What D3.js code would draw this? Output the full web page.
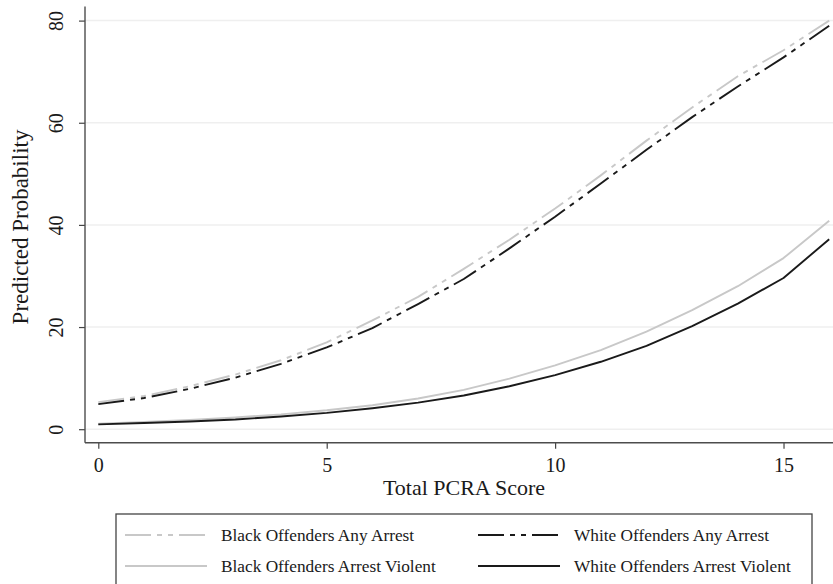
<!DOCTYPE html>
<html>
<head>
<meta charset="utf-8">
<script src="https://cdn.jsdelivr.net/npm/d3@7"></script>
<style>
  html, body { margin: 0; padding: 0; background: #fff; }
  svg { display: block; }
</style>
</head>
<body>
<svg id="chart" width="833" height="584"></svg>
<script>
// ---- data ----
const scores = [0,1,2,3,4,5,6,7,8,9,10,11,12,13,14,15,16];
const blackAnyArrest     = [5.3, 6.5, 8.4, 10.7, 13.5, 17.0, 21.3, 25.9, 31.4, 37.1, 43.2, 49.7, 56.5, 63.0, 69.1, 74.2, 80.0];
const whiteAnyArrest     = [4.9, 6.1, 7.9, 10.1, 12.8, 16.0, 19.8, 24.5, 29.4, 35.4, 41.6, 48.1, 54.7, 61.1, 67.1, 72.8, 79.0];
const blackArrestViolent = [1.1, 1.4, 1.8, 2.3, 2.9, 3.7, 4.7, 6.0, 7.7, 9.9, 12.5, 15.5, 19.1, 23.3, 28.0, 33.5, 40.8];
const whiteArrestViolent = [0.95, 1.2, 1.5, 1.9, 2.5, 3.2, 4.1, 5.2, 6.6, 8.4, 10.6, 13.2, 16.3, 20.2, 24.6, 29.6, 37.2];
const xTicks = [0, 5, 10, 15];
const yTicks = [0, 20, 40, 60, 80];
const seriesNames = ["Black Offenders Any Arrest", "White Offenders Any Arrest",
                     "Black Offenders Arrest Violent", "White Offenders Arrest Violent"];
const xTitle = "Total PCRA Score";
const yTitle = "Predicted Probability";

// ---- layout / styles ----
const W = 833, H = 584;
const FONT = "'Liberation Serif', 'Times New Roman', serif";
const TXT = "#1a1a1a";
const GRAY = "#c8c8c8", DARK = "#1a1a1a";
const DASHDOT = "26,6,5,6,5,6";

const series = [
  { name: seriesNames[0], values: blackAnyArrest,     color: GRAY, dash: DASHDOT },
  { name: seriesNames[1], values: whiteAnyArrest,     color: DARK, dash: DASHDOT },
  { name: seriesNames[2], values: blackArrestViolent, color: GRAY, dash: null },
  { name: seriesNames[3], values: whiteArrestViolent, color: DARK, dash: null }
];

const svg = d3.select("#chart");
svg.append("rect").attr("width", W).attr("height", H).attr("fill", "#fff");

const axisX = 85, axisY = 442.7;
const x = d3.scaleLinear().domain([0, 16]).range([98.3, 829.2]);
const y = d3.scaleLinear().domain([0, 80]).range([429.2, 20.6]);

// gridlines
svg.append("g").selectAll("line").data(yTicks).join("line")
  .attr("x1", axisX).attr("x2", W)
  .attr("y1", d => y(d)).attr("y2", d => y(d))
  .attr("stroke", "#efefef").attr("stroke-width", 1.5);

// lines
const line = d3.line().x((d, i) => x(scores[i])).y(d => y(d));
const plot = svg.append("g");
// draw grey first, dark on top
[series[0], series[2], series[1], series[3]].forEach(s => {
  plot.append("path")
    .datum(s.values)
    .attr("d", line)
    .attr("fill", "none")
    .attr("stroke", s.color)
    .attr("stroke-width", 1.9)
    .attr("stroke-dasharray", s.dash)
    .attr("stroke-linejoin", "round");
});

// x axis
const gx = svg.append("g").attr("transform", `translate(0,${axisY})`)
  .call(d3.axisBottom(x).tickValues(xTicks).tickSize(6).tickFormat(d3.format("d")));
gx.select(".domain").remove();
gx.selectAll(".tick line").attr("stroke", "#444").attr("stroke-width", 1.2);
gx.selectAll(".tick text").attr("y", 29.5).attr("dy", 0)
  .attr("font-family", FONT).attr("font-size", 20).attr("fill", TXT);
svg.append("line").attr("x1", axisX).attr("x2", W).attr("y1", axisY).attr("y2", axisY)
  .attr("stroke", "#4d4d4d").attr("stroke-width", 1.4);

// y axis
const gy = svg.append("g").attr("transform", `translate(${axisX},0)`)
  .call(d3.axisLeft(y).tickValues(yTicks).tickSize(6).tickFormat(d3.format("d")));
gy.select(".domain").remove();
gy.selectAll(".tick line").attr("stroke", "#444").attr("stroke-width", 1.2);
gy.selectAll(".tick text")
  .attr("x", 0).attr("y", 0).attr("dy", 0)
  .attr("text-anchor", "middle")
  .attr("transform", "translate(-22,0) rotate(-90)")
  .attr("font-family", FONT).attr("font-size", 20).attr("fill", TXT);
svg.append("line").attr("x1", axisX).attr("x2", axisX).attr("y1", 6.5).attr("y2", axisY)
  .attr("stroke", "#4d4d4d").attr("stroke-width", 1.4);

// axis titles
svg.append("text").attr("x", 464).attr("y", 495).attr("text-anchor", "middle")
  .attr("font-family", FONT).attr("font-size", 22).attr("fill", TXT).text(xTitle);
svg.append("text").attr("transform", "translate(28,227) rotate(-90)").attr("text-anchor", "middle")
  .attr("font-family", FONT).attr("font-size", 23).attr("fill", TXT).text(yTitle);

// legend
const lg = svg.append("g");
lg.append("rect").attr("x", 116).attr("y", 514).attr("width", 696).attr("height", 100)
  .attr("fill", "#fff").attr("stroke", "#444").attr("stroke-width", 1.3);
const legendPos = [
  { sx: 125, tx: 221, ry: 535 },
  { sx: 478, tx: 574, ry: 535 },
  { sx: 125, tx: 221, ry: 566 },
  { sx: 478, tx: 574, ry: 566 }
];
series.forEach((s, i) => {
  const p = legendPos[i];
  lg.append("line").attr("x1", p.sx).attr("x2", p.sx + 82).attr("y1", p.ry).attr("y2", p.ry)
    .attr("stroke", s.color).attr("stroke-width", 1.9).attr("stroke-dasharray", s.dash);
  lg.append("text").attr("x", p.tx).attr("y", p.ry + 5.5)
    .attr("font-family", FONT).attr("font-size", 17.3).attr("fill", TXT).text(s.name);
});
</script>
</body>
</html>
